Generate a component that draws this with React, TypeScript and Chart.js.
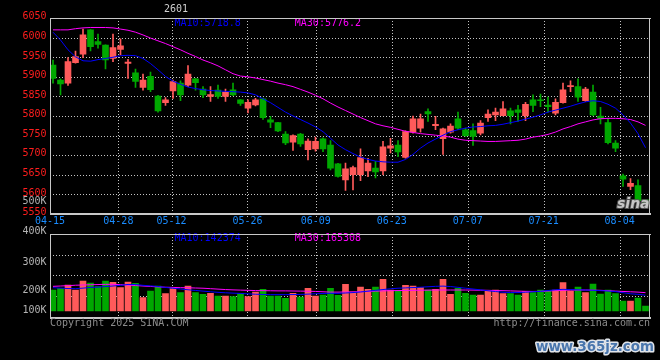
import React, { useEffect, useRef } from "react";
import { Chart, registerables } from "chart.js";

Chart.register(...registerables);

// ---------------- data ----------------
const dates = [
  "04-15","04-16","04-17","04-18","04-21","04-22","04-23","04-24","04-25","04-28","04-29","04-30",
  "05-06","05-07","05-08","05-09","05-12","05-13","05-14","05-15","05-16","05-19","05-20","05-21","05-22","05-23",
  "05-26","05-27","05-28","05-29","05-30",
  "06-03","06-04","06-05","06-06","06-09","06-10","06-11","06-12","06-13","06-16","06-17","06-18","06-19","06-20",
  "06-23","06-24","06-25","06-26","06-27","06-30",
  "07-01","07-02","07-03","07-04","07-07","07-08","07-09","07-10","07-11","07-14","07-15","07-16","07-17","07-18",
  "07-21","07-22","07-23","07-24","07-25","07-28","07-29","07-30","07-31",
  "08-01","08-04","08-05","08-06","08-07","08-08"
];
const axisDates = ["04-15","04-28","05-12","05-26","06-09","06-23","07-07","07-21","08-04"];

const openP = [
  5930,5892,5884,5936,5958,6020,5990,5981,5947,5970,
  5934,5910,5873,5901,5851,5834,5864,5884,5879,5895,
  5869,5850,5866,5850,5867,5841,5820,5828,5844,5790,
  5783,5754,5733,5754,5714,5716,5742,5726,5678,5637,
  5650,5650,5660,5667,5660,5718,5726,5694,5759,5769,
  5811,5775,5742,5759,5793,5765,5763,5756,5796,5803,
  5801,5813,5816,5801,5841,5841,5828,5807,5834,5875,
  5875,5839,5861,5800,5783,5731,5647,5620,5622,5586
];
const highP = [
  5943,5895,5949,5966,6022,6021,6009,5982,6009,5997,
  5945,5920,5907,5912,5853,5847,5892,5890,5929,5896,
  5875,5875,5879,5869,5884,5842,5841,5845,5846,5799,
  5784,5760,5752,5756,5742,5746,5744,5737,5679,5680,
  5672,5716,5692,5684,5735,5743,5737,5762,5800,5805,
  5818,5799,5769,5780,5810,5769,5780,5788,5816,5820,
  5837,5820,5827,5835,5854,5856,5848,5844,5884,5890,
  5895,5873,5879,5822,5794,5737,5652,5640,5637,5586
];
const lowP = [
  5884,5854,5878,5935,5949,5966,5973,5920,5939,5956,
  5896,5873,5866,5862,5810,5827,5845,5839,5875,5866,
  5847,5837,5845,5837,5852,5827,5808,5826,5791,5770,
  5760,5727,5712,5722,5688,5710,5709,5662,5644,5610,
  5611,5635,5645,5642,5650,5706,5696,5692,5756,5759,
  5786,5765,5702,5756,5765,5748,5725,5752,5786,5788,
  5800,5780,5786,5788,5811,5824,5810,5803,5833,5862,
  5837,5837,5801,5780,5729,5709,5620,5612,5584,5576
];
const closeP = [
  5896,5882,5939,5952,6007,5977,5983,5943,5975,5979,
  5938,5888,5892,5867,5813,5841,5888,5854,5907,5885,
  5854,5855,5850,5861,5854,5832,5835,5841,5796,5784,
  5762,5731,5750,5729,5736,5735,5716,5667,5646,5665,
  5668,5694,5680,5657,5721,5724,5708,5760,5793,5793,
  5805,5779,5767,5774,5769,5750,5748,5782,5805,5810,
  5818,5801,5809,5830,5827,5839,5824,5835,5867,5878,
  5848,5869,5803,5793,5732,5718,5639,5628,5584,5576
];
const ma10 = [
  6014,5994,5969,5951,5941,5940,5944,5947,5950,5954,
  5955,5954,5947,5934,5918,5901,5889,5881,5874,5870,
  5867,5865,5864,5863,5862,5861,5859,5854,5844,5834,
  5822,5810,5800,5791,5782,5772,5760,5743,5726,5714,
  5704,5695,5689,5685,5683,5682,5682,5689,5702,5718,
  5731,5741,5751,5760,5765,5769,5772,5773,5775,5776,
  5779,5783,5787,5792,5797,5803,5810,5815,5820,5825,
  5831,5836,5839,5837,5830,5820,5803,5782,5755,5719
];
const ma30 = [
  6020,6020,6020,6023,6025,6026,6026,6026,6025,6022,
  6019,6014,6007,5999,5992,5985,5977,5969,5960,5952,
  5943,5936,5928,5918,5908,5902,5900,5897,5893,5889,
  5884,5880,5875,5868,5861,5853,5844,5833,5823,5814,
  5805,5796,5788,5780,5775,5771,5766,5761,5758,5755,
  5753,5751,5749,5746,5741,5738,5737,5736,5735,5735,
  5736,5737,5738,5741,5746,5749,5753,5759,5767,5773,
  5780,5785,5790,5793,5794,5794,5793,5791,5785,5776
];
const volume = [
  189000,201000,234000,189000,270000,252000,219000,270000,258000,210000,
  261000,249000,120000,180000,225000,156000,201000,165000,225000,165000,
  150000,159000,135000,135000,129000,156000,129000,171000,195000,135000,
  135000,114000,159000,126000,204000,135000,144000,204000,141000,240000,
  171000,216000,195000,216000,285000,189000,180000,231000,225000,210000,
  189000,195000,285000,150000,204000,159000,144000,144000,177000,189000,
  156000,156000,144000,177000,165000,189000,177000,189000,255000,180000,
  216000,165000,243000,153000,189000,156000,90000,90000,117000,45000
];
const volMa10 = [
  210000,206000,202000,201000,206000,212000,215000,220000,225000,231000,
  239000,238000,231000,226000,221000,212000,205000,198000,191000,185000,
  179000,173000,168000,164000,161000,158000,154000,151000,149000,147000,
  147000,147000,148000,149000,152000,155000,158000,159000,159000,162000,
  166000,171000,179000,186000,193000,200000,205000,208000,211000,214000,
  218000,222000,224000,220000,213000,205000,198000,190000,182000,175000,
  169000,166000,166000,169000,173000,177000,184000,191000,195000,193000,
  190000,189000,187000,183000,180000,175000,165000,155000,150000,142000
];
const volMa30 = [
  222000,225000,228000,232000,234000,236000,238000,240000,240000,237000,
  233000,229000,225000,221000,217000,214000,212000,210000,209000,207000,
  205000,201000,197000,193000,190000,188000,186000,184000,183000,182000,
  181000,181000,180000,179000,178000,176000,173000,170000,170000,171000,
  172000,174000,176000,179000,181000,183000,184000,185000,186000,187000,
  188000,189000,189000,189000,189000,189000,188000,187000,186000,184000,
  183000,181000,179000,177000,176000,177000,180000,183000,186000,188000,
  189000,189000,188000,186000,183000,179000,176000,173000,170000,165000
];
const priceTicks = [5550,5600,5650,5700,5750,5800,5850,5900,5950,6000,6050];
const volumeTickLabels = ["100K","200K","300K","400K","500K"];
const priceLegend = ["MA10:5718.8","MA30:5776.2"];
const volumeLegend = ["MA10:142374","MA30:165308"];
const titleText = "2601";
const copyrightText = "Copyright 2025 SINA.COM";
const urlText = "http://finance.sina.com.cn";
const watermarkText = "www.365jz.com";
const logoText = "sina";

// ---------------- layout / style ----------------
const RED = "#ff5a5a";
const GREEN = "#00a800";
const BLUE = "#0000ff";
const MAGENTA = "#ff00ff";
const GRID = "#c4c4c4";
const BORDER = "#c8c8c8";
const MONO = "10px 'DejaVu Sans Mono', monospace";
const X_PAD = 0.4;
const PRICE_TOP = 6050;
const PRICE_BOTTOM = 5550;
const VOL_PANEL_TOP = 690000;
const VOL_GRID = [501000, 321000, 139500];
const VOL_LABEL_Y = [310.7, 290.7, 262, 231, 201.7];

const upColor = (i: number) => (closeP[i] >= openP[i] ? RED : GREEN);

const decor = {
  id: "sinaDecor",
  beforeDraw(chart: any) {
    const { ctx, width, height } = chart;
    ctx.save();
    ctx.fillStyle = "#000";
    ctx.fillRect(0, 0, width, height);
    ctx.restore();
  },
  beforeDatasetsDraw(chart: any) {
    const { ctx, chartArea: a, scales } = chart;
    const xd = scales.xd, ys = scales.y, yv = scales.yv;
    const pTop = Math.round(ys.getPixelForValue(PRICE_TOP));
    const pBot = Math.round(ys.getPixelForValue(PRICE_BOTTOM));
    const vTop = Math.round(yv.getPixelForValue(VOL_PANEL_TOP));
    const vBot = Math.round(a.bottom);
    ctx.save();
    ctx.strokeStyle = GRID;
    ctx.lineWidth = 1;
    ctx.setLineDash([1, 2]);
    const seg = (x1: number, y1: number, x2: number, y2: number) => {
      ctx.beginPath();
      ctx.moveTo(x1, y1);
      ctx.lineTo(x2, y2);
      ctx.stroke();
    };
    priceTicks.slice(1, -1).forEach((p) => {
      const yy = Math.round(ys.getPixelForValue(p)) + 0.5;
      seg(a.left, yy, a.right, yy);
    });
    VOL_GRID.forEach((v) => {
      const yy = Math.round(yv.getPixelForValue(v)) + 0.5;
      seg(a.left, yy, a.right, yy);
    });
    axisDates.slice(1).forEach((d) => {
      const k = dates.indexOf(d);
      const xx = Math.round(xd.getPixelForValue(k)) + 0.5;
      seg(xx, pTop, xx, pBot + 3);
      seg(xx, vTop, xx, vBot + 3);
    });
    ctx.restore();
  },
  afterDatasetsDraw(chart: any) {
    const { ctx, chartArea: a, scales } = chart;
    const xd = scales.xd, ys = scales.y, yv = scales.yv;
    const L = Math.round(a.left), R = Math.round(a.right);
    const pTop = Math.round(ys.getPixelForValue(PRICE_TOP));
    const pBot = Math.round(ys.getPixelForValue(PRICE_BOTTOM));
    const vTop = Math.round(yv.getPixelForValue(VOL_PANEL_TOP));
    const vBot = Math.round(a.bottom);
    ctx.save();
    ctx.font = MONO;
    ctx.textBaseline = "middle";

    // legends
    ctx.textAlign = "left";
    ctx.fillStyle = BLUE;
    ctx.fillText(priceLegend[0], 174.5, pTop + 5.3);
    ctx.fillText(volumeLegend[0], 174.5, vTop + 4.6);
    ctx.fillStyle = MAGENTA;
    ctx.fillText(priceLegend[1], 294.8, pTop + 5.3);
    ctx.fillText(volumeLegend[1], 294.8, vTop + 4.6);

    // frames
    ctx.fillStyle = BORDER;
    ctx.fillRect(L, pTop, R - L + 1, 1);
    ctx.fillRect(L, pTop, 1, pBot - pTop);
    ctx.fillRect(R - 1, pTop, 1, pBot - pTop);
    ctx.fillRect(L, pBot - 1, R - L + 1, 2);
    ctx.fillRect(L, vTop, R - L + 1, 1);
    ctx.fillRect(L, vTop, 1, vBot - vTop);
    ctx.fillRect(R - 1, vTop, 1, vBot - vTop);
    ctx.fillRect(L, vBot - 1, R - L + 1, 2);

    // price labels
    ctx.textAlign = "right";
    ctx.fillStyle = "#ff1e1e";
    priceTicks.forEach((p) => {
      ctx.fillText(String(p), 46.5, ys.getPixelForValue(p) - 1.3);
    });
    // volume labels
    ctx.fillStyle = "#b4b4b4";
    volumeTickLabels.forEach((t, k) => ctx.fillText(t, 46.5, VOL_LABEL_Y[k]));

    // date labels
    ctx.textAlign = "center";
    ctx.fillStyle = "#1a8cff";
    axisDates.forEach((d) => {
      const k = dates.indexOf(d);
      ctx.fillText(d, xd.getPixelForValue(k), pBot + 7.5);
    });

    // title
    ctx.fillStyle = "#cfcfcf";
    ctx.textAlign = "left";
    ctx.fillText(titleText, 164, 9.5);

    // footer
    ctx.fillStyle = "#8c8c8c";
    ctx.fillText(copyrightText, L, vBot + 5);
    ctx.textAlign = "right";
    ctx.fillText(urlText, R, vBot + 5);

    // sina logo overlay
    ctx.textAlign = "left";
    ctx.textBaseline = "alphabetic";
    ctx.font = "italic bold 14px 'DejaVu Sans', sans-serif";
    ctx.lineWidth = 2;
    ctx.strokeStyle = "rgba(90,90,90,0.9)";
    ctx.strokeText(logoText, 617, pBot - 6);
    ctx.fillStyle = "rgba(205,205,205,0.95)";
    ctx.fillText(logoText, 617, pBot - 6);

    // watermark
    ctx.font = "bold 16px 'DejaVu Sans', sans-serif";
    const w = ctx.measureText(watermarkText).width;
    const size = (16 * 118) / w;
    ctx.font = `bold ${size.toFixed(2)}px 'DejaVu Sans', sans-serif`;
    ctx.lineJoin = "round";
    ctx.lineWidth = 3;
    ctx.strokeStyle = "#e0e4ea";
    ctx.strokeText(watermarkText, 536, 351);
    ctx.fillStyle = "#4a76ad";
    ctx.fillText(watermarkText, 536, 351);
    ctx.restore();
  },
};

export default function App() {
  const ref = useRef<HTMLCanvasElement>(null);
  useEffect(() => {
    document.body.style.margin = "0";
    document.body.style.background = "#000";
    const canvas = ref.current;
    if (!canvas) return;
    const colors = dates.map((_, i) => upColor(i));
    const pts = (arr: number[]) => arr.map((v, i) => ({ x: i, y: v }));
    const chart = new Chart(canvas, {
      type: "bar",
      data: {
        datasets: [
          { type: "line", data: pts(ma10), borderColor: BLUE, borderWidth: 1, pointRadius: 0, tension: 0, yAxisID: "y", order: 0 } as any,
          { type: "line", data: pts(ma30), borderColor: MAGENTA, borderWidth: 1, pointRadius: 0, tension: 0, yAxisID: "y", order: 0 } as any,
          { type: "line", data: pts(volMa10), borderColor: BLUE, borderWidth: 1, pointRadius: 0, tension: 0, yAxisID: "yv", order: 0 } as any,
          { type: "line", data: pts(volMa30), borderColor: MAGENTA, borderWidth: 1, pointRadius: 0, tension: 0, yAxisID: "yv", order: 0 } as any,
          {
            type: "bar",
            data: dates.map((_, i) => ({ x: i, y: [openP[i], closeP[i]] })),
            backgroundColor: colors,
            barThickness: 6,
            grouped: false,
            minBarLength: 1,
            borderWidth: 0,
            yAxisID: "y",
            order: 1,
          } as any,
          {
            type: "bar",
            data: dates.map((_, i) => ({ x: i, y: [lowP[i], highP[i]] })),
            backgroundColor: colors,
            barThickness: 1,
            grouped: false,
            borderWidth: 0,
            yAxisID: "y",
            order: 2,
          } as any,
          {
            type: "bar",
            data: dates.map((_, i) => ({ x: i, y: volume[i] })),
            backgroundColor: colors,
            barThickness: 6,
            grouped: false,
            borderWidth: 0,
            yAxisID: "yv",
            order: 1,
          } as any,
        ],
      },
      options: {
        responsive: false,
        animation: false,
        devicePixelRatio: 1,
        events: [],
        layout: { padding: { left: 50, right: 10, top: 18.1, bottom: 41.7 } },
        plugins: { legend: { display: false }, tooltip: { enabled: false } },
        scales: {
          x: { type: "linear", offset: false, min: -X_PAD, max: dates.length - X_PAD, display: false },
          xd: { type: "linear", axis: "x", position: "bottom", offset: false, min: 0, max: dates.length - 1, display: false },
          y: { type: "linear", min: 5283.4, max: 6050, display: false },
          yv: { type: "linear", min: -65700, max: 2636100, display: false },
        },
      } as any,
      plugins: [decor],
    });
    return () => chart.destroy();
  }, []);
  return <canvas ref={ref} width={660} height={360} style={{ display: "block", width: 660, height: 360 }} />;
}
